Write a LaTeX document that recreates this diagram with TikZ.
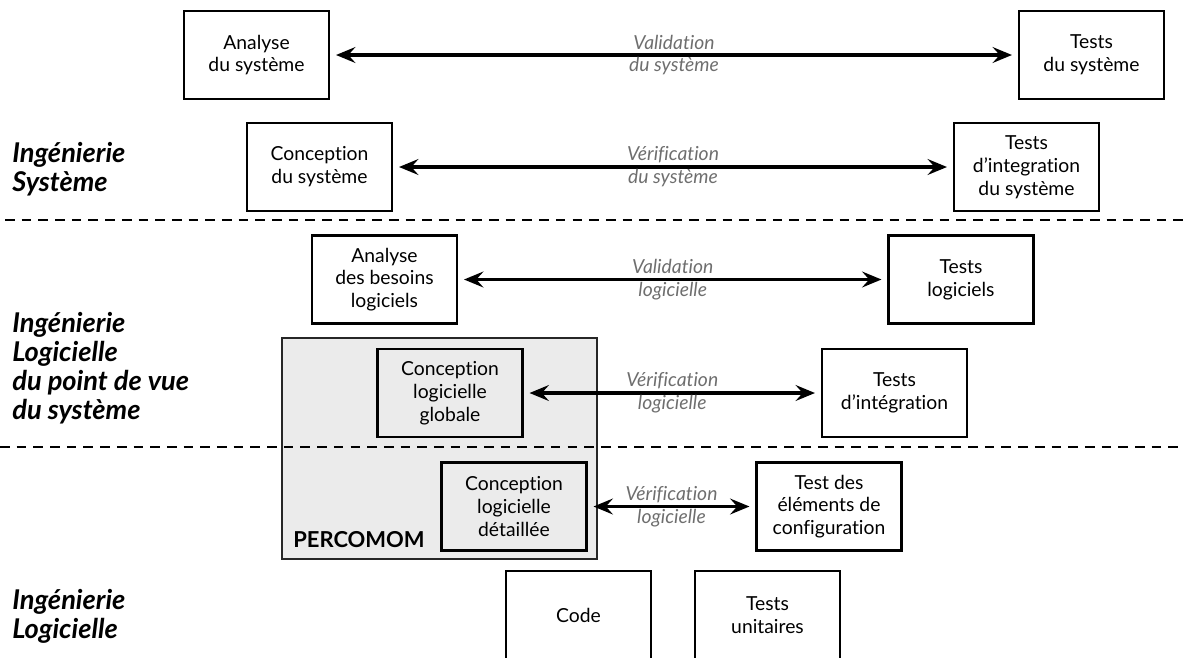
\documentclass[tikz,border=0pt]{standalone}
\usepackage{fontspec}
\setmainfont{Lato}[Ligatures={NoCommon}]
\usetikzlibrary{arrows.meta}
\definecolor{percogris}{HTML}{EBEBEB}
\definecolor{lblgris}{HTML}{6E6E6E}
\begin{document}
\begin{tikzpicture}[x=0.02cm,y=-0.02cm,
  etape/.style={draw,line width=1.2pt,fill=white,minimum width=2.9cm,minimum height=1.76cm,
    align=center,font=\fontsize{11}{13}\selectfont},
  etapegrise/.style={etape,fill=percogris},
  lien/.style={{Stealth[length=11pt,width=9pt,inset=4pt]}-{Stealth[length=11pt,width=9pt,inset=4pt]},
    line width=1.8pt,shorten <=3.4pt,shorten >=3.4pt},
  lbl/.style={text=lblgris,align=center,font=\fontsize{11}{13}\selectfont\itshape},
  niveau/.style={anchor=west,inner sep=0pt,align=left,font=\fontsize{15.5}{16.5}\selectfont\bfseries\itshape},
  separ/.style={dash pattern=on 5.5pt off 4pt,line width=1.2pt}]
\useasboundingbox (0,0) rectangle (1183,657);
\clip (0,0) rectangle (1183,657);

\node[draw=black!85,fill=percogris,line width=0.9pt,minimum width=6.3cm,minimum height=4.42cm,inner sep=0pt] (percoBox) at (439.5,448.5) {};
\node[anchor=base west,inner sep=0pt,font=\fontsize{12.5}{13}\selectfont\bfseries] (percoLbl) at (293,547) {PERCOMOM};

\draw[separ] (5,220) -- (1183,220);
\draw[separ] (0,447) -- (1183,447);

\node[niveau] (nivSys) at (12,169) {Ingénierie\\Système};
\node[niveau] (nivLogSys) at (12,368) {Ingénierie\\Logicielle\\du point de vue\\du système};
\node[niveau] (nivLog) at (12,616) {Ingénierie\\Logicielle};

\node[etape] (anaSys) at (256.5,55) {Analyse\\du système};
\node[etape] (testSys) at (1091.5,55) {Tests\\du système};
\node[etape] (concSys) at (319.5,167) {Conception\\du système};
\node[etape] (testInteg) at (1026.5,167) {Tests\\d’integration\\du système};
\node[etape] (anaLog) at (384.5,279.5) {Analyse\\des besoins\\logiciels};
\node[etape] (testLog) at (961,279.5) {Tests\\logiciels};
\node[etapegrise] (concGlob) at (450,393) {Conception\\logicielle\\globale};
\node[etape] (testIntLog) at (894.5,393) {Tests\\d’intégration};
\node[etapegrise] (concDet) at (514,506.5) {Conception\\logicielle\\détaillée};
\node[etape] (testElem) at (829,506.5) {Test des\\éléments de\\configuration};
\node[etape] (code) at (578.5,615) {Code};
\node[etape] (testUnit) at (767.5,615) {Tests\\unitaires};

\draw[lien] (anaSys) -- node[lbl] {Validation\\du système} (testSys);
\draw[lien] (concSys) -- node[lbl] {Vérification\\du système} (testInteg);
\draw[lien] (anaLog) -- node[lbl] {Validation\\logicielle} (testLog);
\draw[lien] (concGlob) -- node[lbl] {Vérification\\logicielle} (testIntLog);
\draw[lien] (concDet) -- node[lbl] {Vérification\\logicielle} (testElem);
\end{tikzpicture}
\end{document}
